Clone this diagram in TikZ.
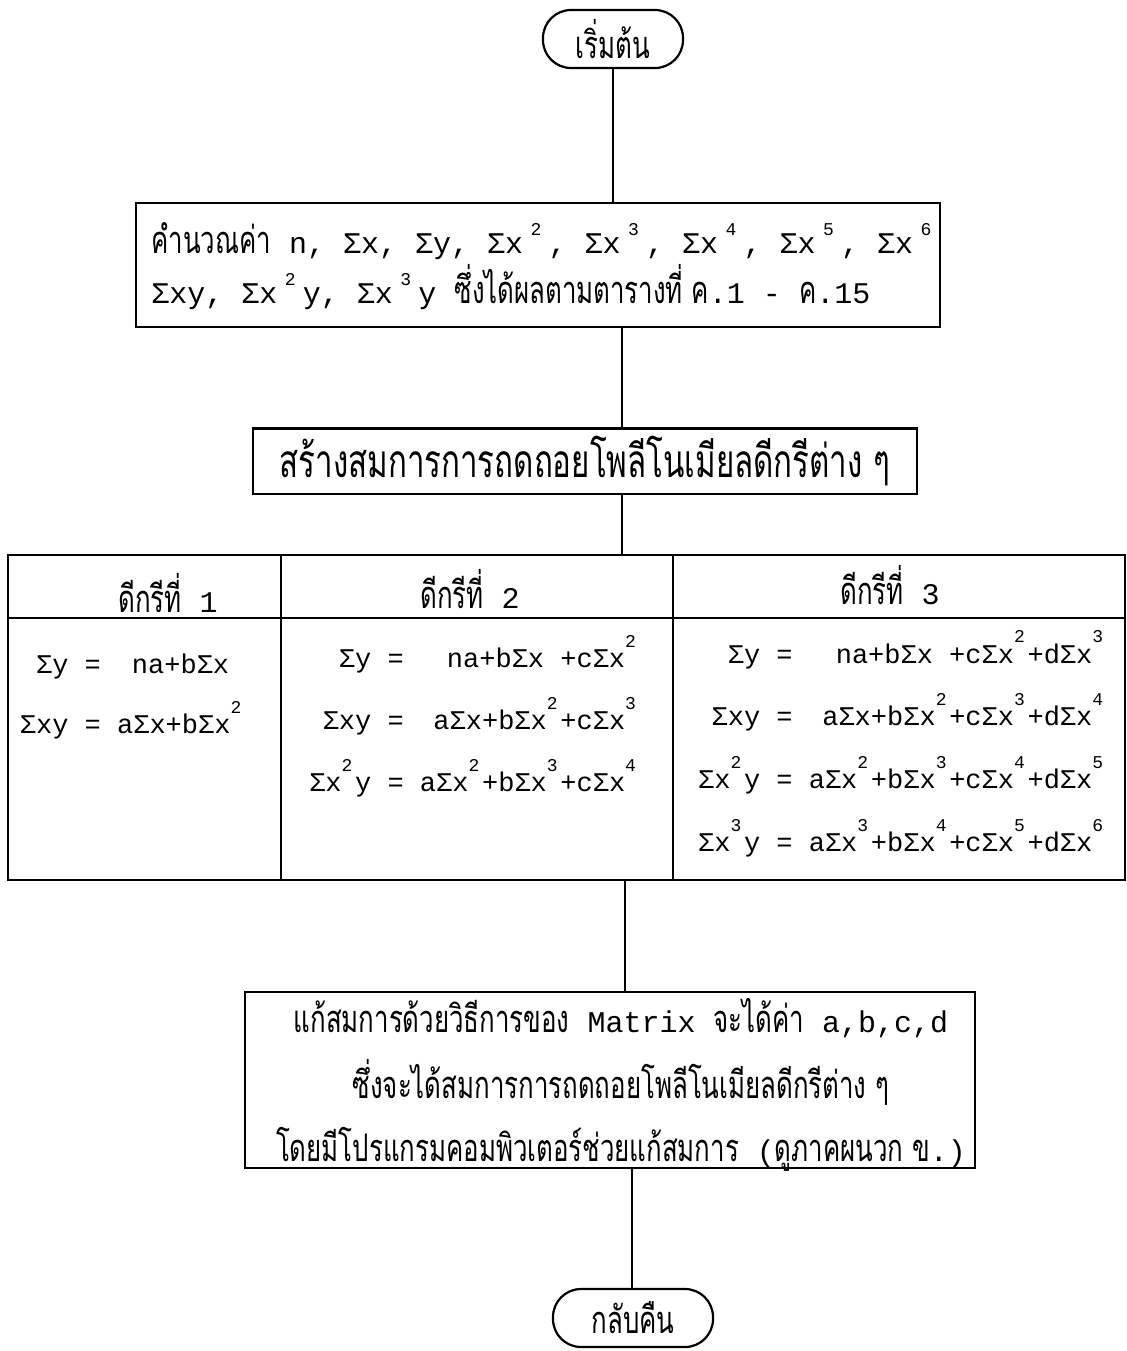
\documentclass[tikz,border=0pt]{standalone}
\usepackage{fontspec}
\setmainfont{Liberation Mono}
\newfontfamily\thf[Script=Thai,FakeStretch=0.68]{Loma}
\newcommand\ex[1]{\makebox[0.5em][l]{\raisebox{0.75em}{\fontsize{9}{9}\selectfont #1}}}
\newcommand\exw[1]{\makebox[0.85em][c]{\raisebox{0.6em}{\fontsize{9}{9}\selectfont #1}}}
\newcommand\tht[1]{{\thf\fontsize{19}{20}\selectfont #1}}
\begin{document}
\begin{tikzpicture}[x=0.5pt,y=-0.5pt,
  box/.style={draw, line width=1.4pt, inner sep=4pt},
  pill/.style={draw, line width=1.1pt, rounded corners=14pt, inner sep=0pt},
  conn/.style={line width=1pt},
  grid/.style={line width=1.4pt},
  bigtext/.style={font=\fontsize{15}{18}\selectfont},
  eqtext/.style={font=\fontsize{13.5}{16}\selectfont, inner sep=0pt}]
\useasboundingbox (0,0) rectangle (1127,1351);
\coordinate (x2) at (622,0);
\coordinate (x4) at (625,0);
\coordinate (x5) at (632,0);

\node[pill, minimum width=70pt, minimum height=29pt] (start) at (613,39) {\tht{เริ่มต้น}};

\node[box, minimum width=402pt, minimum height=62pt, inner sep=0pt] (b1) at (538,265) {};
\node[anchor=west, align=left, font=\fontsize{15}{25}\selectfont, inner sep=0pt] (b1t) at (151,266)
  {\tht{คำนวณค่า} n, Σx, Σy, Σx\exw{2}, Σx\exw{3}, Σx\exw{4}, Σx\exw{5}, Σx\exw{6}\\
   Σxy, Σx\exw{2}y, Σx\exw{3}y \tht{ซึ่งได้ผลตามตารางที่ ค}.1 - \tht{ค}.15};

\node[box, minimum width=332pt, minimum height=28.5pt, font=\fontsize{23}{24}\selectfont] (b2) at (585,461)
  {\thf สร้างสมการการถดถอยโพลีโนเมียลดีกรีต่าง ๆ};

\node[draw, grid, minimum width=558.5pt, minimum height=162.5pt, inner sep=0pt] (tbl) at (566.5,717.5) {};
\draw[grid] (8,618) -- (1125,618);
\draw[grid] (281,555) -- (281,880);
\draw[grid] (673,555) -- (673,880);

\node[bigtext] (h1) at (168,593) {\tht{ดีกรีที่} 1};
\node[bigtext] (h2) at (470,589) {\tht{ดีกรีที่} 2};
\node[bigtext] (h3) at (890,585) {\tht{ดีกรีที่} 3};

\node[eqtext] (e1) at (132,697) {\begin{tabular}{@{}r@{ = }c@{}}
Σy & na+bΣx\\[9pt]
Σxy & aΣx+bΣx\ex{2}
\end{tabular}};
\node[eqtext] (e2) at (474,718) {\begin{tabular}{@{}r@{ = }r@{}}
Σy & na+bΣx +cΣx\ex{2}\\[10pt]
Σxy & aΣx+bΣx\ex{2}+cΣx\ex{3}\\[10pt]
Σx\ex{2}y & aΣx\ex{2}+bΣx\ex{3}+cΣx\ex{4}
\end{tabular}};
\node[eqtext] (e3) at (902,746) {\begin{tabular}{@{}r@{ = }r@{}}
Σy & na+bΣx +cΣx\ex{2}+dΣx\ex{3}\\[10.5pt]
Σxy & aΣx+bΣx\ex{2}+cΣx\ex{3}+dΣx\ex{4}\\[10.5pt]
Σx\ex{2}y & aΣx\ex{2}+bΣx\ex{3}+cΣx\ex{4}+dΣx\ex{5}\\[10.5pt]
Σx\ex{3}y & aΣx\ex{3}+bΣx\ex{4}+cΣx\ex{5}+dΣx\ex{6}
\end{tabular}};

\node[box, minimum width=365pt, minimum height=88pt, inner sep=0pt] (b4) at (610,1080) {};
\node[align=center, font=\fontsize{15}{18}\selectfont, inner sep=0pt] (b4t) at (621,1085)
  {\tht{แก้สมการด้วยวิธีการของ} Matrix \tht{จะได้ค่า} a,b,c,d\\[10pt]
   \tht{ซึ่งจะได้สมการการถดถอยโพลีโนเมียลดีกรีต่าง ๆ}\\[10pt]
   \tht{โดยมีโปรแกรมคอมพิวเตอร์ช่วยแก้สมการ} (\tht{ดูภาคผนวก ข}.)};

\node[pill, minimum width=80pt, minimum height=29pt] (end) at (633,1318) {\tht{กลับคืน}};

\draw[conn] (start.south) -- (start.south |- b1.north);
\draw[conn] (b1.south -| x2) -- (b2.north -| x2);
\draw[conn] (b2.south -| x2) -- (tbl.north -| x2);
\draw[conn] (tbl.south -| x4) -- (b4.north -| x4);
\draw[conn] (b4.south -| x5) -- (end.north -| x5);
\end{tikzpicture}
\end{document}
